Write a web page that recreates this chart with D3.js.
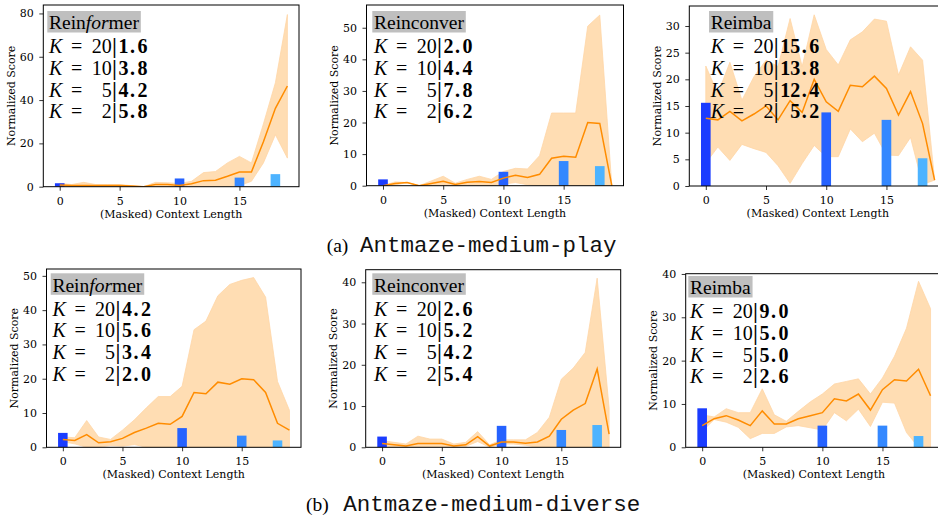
<!DOCTYPE html>
<html><head><meta charset="utf-8">
<script src="https://cdn.jsdelivr.net/npm/d3@7"></script>
<style>body{margin:0;background:#fff}svg{display:block}</style>
</head><body>
<script>
// ---------------- DATA ----------------
const contextLen = [0,1,2,3,4,5,6,7,8,9,10,11,12,13,14,15,16,17,18,19];
const barContext = [0,10,15,18];
const kLabels = [20,10,5,2];
const xTickVals = [0,5,10,15];

// (a) Antmaze-medium-play
const playReinformerMean = [0.8,0.5,0.6,0.5,0.5,0.5,0.3,0.0,1.0,1.0,0.6,1.4,2.8,3.0,4.8,6.8,6.8,20.8,36.2,46.5];
const playReinformerHi   = [1.5,1.0,2.0,1.0,1.0,1.0,0.5,0.0,2.0,1.8,1.5,2.5,6.5,7.0,11.0,14.0,11.0,29.0,48.0,79.5];
const playReinformerLo   = [0.2,0,0,0,0,0,0,0,0,0,0,0.3,0,0,0,0.5,2.5,11.0,24.0,13.2];
const playReinformerBars = [1.6,3.8,4.2,5.8];

const playReinconverMean = [0,0.7,1.0,0,0.7,1.4,0.4,1.1,1.3,1.0,2.4,3.3,2.6,3.6,8.7,9.3,9.0,20.0,19.7,0];
const playReinconverHi   = [0,1.2,1.0,0,1.5,3.0,0.8,2.0,3.0,2.0,4.5,5.5,5.3,9.5,23.0,23.0,23.0,50.5,54.0,0];
const playReinconverLo   = [0,0.2,1.0,0,0,0,0,0.3,0,0,0.5,1.0,0.3,0,0,0,0,0,0,0];
const playReinconverBars = [2.0,4.4,7.8,6.2];

const playReimbaMean = [12.7,12.4,14.0,12.2,13.5,15.0,12.4,16.0,13.8,20.0,15.8,14.0,18.9,18.6,20.6,18.3,13.3,17.7,11.7,1.1];
const playReimbaHi   = [22.5,17.3,23.2,16.1,20.5,23.6,22.4,31.4,22.4,32.1,25.6,22.7,27.4,28.9,31.3,30.9,20.8,26.1,23.6,1.1];
const playReimbaLo   = [4.3,7.3,4.8,7.8,7.0,6.3,3.8,0.5,4.2,7.6,5.5,5.5,10.7,8.3,9.9,5.8,5.7,9.1,0.3,1.1];
const playReimbaBars = [15.6,13.8,12.4,5.2];

// (b) Antmaze-medium-diverse
const divReinformerMean = [2.3,2.0,3.7,1.3,1.6,2.6,4.3,5.6,7.0,6.7,9.0,16.0,15.6,19.0,18.4,20.0,19.7,16.0,7.0,5.0];
const divReinformerHi   = [3.0,2.8,7.8,3.0,2.3,5.0,8.0,11.5,14.8,14.8,17.8,34.3,36.8,44.2,47.5,48.7,49.5,43.8,19.2,10.8];
const divReinformerLo   = [1.6,1.0,0,0,0.5,0.3,0.8,0,0,0,0,0,0,0,0,0,0,0,0,0];
const divReinformerBars = [4.2,5.6,3.4,2.0];

const divReinconverMean = [0.9,0.6,0.3,0.9,0.9,0.9,0.3,0.6,2.6,0.3,1.3,1.3,1.0,1.3,2.7,6.8,9.0,10.6,19.0,3.2];
const divReinconverHi   = [1.6,1.2,0.8,2.7,2.0,2.0,0.8,1.2,3.8,0.6,1.8,1.8,1.8,3.6,7.3,16.5,19.2,23.0,41.0,9.5];
const divReinconverLo   = [0.3,0.1,0,0,0,0,0,0.2,1.4,0,0.8,0.8,0.5,0,0,0,0,0,0,0];
const divReinconverBars = [2.6,5.2,4.2,5.4];

const divReimbaMean = [5.0,6.6,7.3,6.3,5.0,8.4,5.4,5.4,6.6,7.3,8.0,11.2,10.7,12.3,8.6,13.3,15.6,15.3,18.0,11.9];
const divReimbaHi   = [7.5,7.0,8.9,8.0,8.0,13.5,7.5,6.0,8.3,10.5,12.3,14.6,15.2,15.8,12.3,16.0,21.0,27.5,38.3,32.0];
const divReimbaLo   = [3.7,6.4,5.8,4.6,2.0,3.2,3.2,4.7,5.0,4.5,4.0,8.0,6.1,8.8,4.8,10.4,10.2,3.4,0.0,0.0];
const divReimbaBars = [9.0,5.0,5.0,2.6];

// ---------------- STYLE / LAYOUT ----------------
const barColors = ["#1a3cff","#2562ff","#3488ff","#4db3ff"];
const lineColor = "#ff8c00";
const bandColor = "#ffddb3";
const axisFont = "DejaVu Serif";
const boxFont = "Liberation Serif";

const panels = [
  {title:["Rein","for","mer"], mean:playReinformerMean, hi:playReinformerHi, lo:playReinformerLo, bars:playReinformerBars,
   l:43.3, r:299, t:5, b:186.7, ymax:83.9, yTicks:[0,20,40,60,80], bx:47.3, bt:11},
  {title:["Reinconver"], mean:playReinconverMean, hi:playReinconverHi, lo:playReinconverLo, bars:playReinconverBars,
   l:366.5, r:623.5, t:5, b:185.7, ymax:57.2, yTicks:[0,10,20,30,40,50], bx:372.3, bt:11},
  {title:["Reimba"], mean:playReimbaMean, hi:playReimbaHi, lo:playReimbaLo, bars:playReimbaBars,
   l:689.3, r:946.3, t:6, b:186, ymax:33.75, yTicks:[0,5,10,15,20,25,30], bx:709, bt:11},
  {title:["Rein","for","mer"], mean:divReinformerMean, hi:divReinformerHi, lo:divReinformerLo, bars:divReinformerBars,
   l:46.5, r:301, t:269, b:447.3, ymax:52, yTicks:[0,10,20,30,40,50], bx:50.7, bt:273.3},
  {title:["Reinconver"], mean:divReinconverMean, hi:divReinconverHi, lo:divReinconverLo, bars:divReinconverBars,
   l:365.7, r:620.7, t:269.7, b:447.3, ymax:43.05, yTicks:[0,10,20,30,40], bx:372.3, bt:273.3},
  {title:["Reimba"], mean:divReimbaMean, hi:divReimbaHi, lo:divReimbaLo, bars:divReimbaBars,
   l:685.7, r:942.2, t:273.7, b:447.3, ymax:40.06, yTicks:[0,10,20,30,40], bx:688.3, bt:276}
];

const svg = d3.select("body").append("svg").attr("width",938).attr("height",517)
  .style("font-family", axisFont);

panels.forEach((p, pi) => {
  const x = d3.scaleLinear().domain([-1.37,19.97]).range([p.l, p.r]);
  const y = d3.scaleLinear().domain([0,p.ymax]).range([p.b, p.t]);
  const g = svg.append("g");
  const cid = "clip"+pi;
  g.append("clipPath").attr("id",cid).append("rect")
    .attr("x",p.l).attr("y",p.t).attr("width",p.r-p.l).attr("height",p.b-p.t);
  const plot = g.append("g").attr("clip-path",`url(#${cid})`);

  const area = d3.area().x((d,i)=>x(contextLen[i])).y0((d,i)=>y(p.lo[i])).y1((d,i)=>y(p.hi[i]));
  plot.append("path").datum(p.mean).attr("d",area).attr("fill",bandColor).attr("stroke","#ffd6a6").attr("stroke-width",0.8);

  plot.selectAll("rect.bar").data(p.bars).join("rect").attr("class","bar")
    .attr("x",(d,i)=>x(barContext[i]-0.4)).attr("width",x(0.8)-x(0))
    .attr("y",d=>y(d)).attr("height",d=>y(0)-y(d)).attr("fill",(d,i)=>barColors[i]);

  const line = d3.line().x((d,i)=>x(contextLen[i])).y(d=>y(d));
  plot.append("path").datum(p.mean).attr("d",line).attr("fill","none").attr("stroke",lineColor).attr("stroke-width",1.5);

  // axes
  const ya = g.append("g").attr("transform",`translate(${p.l},0)`)
    .call(d3.axisLeft(y).tickValues(p.yTicks).tickSize(4).tickSizeOuter(0).tickPadding(5.5));
  const xa = g.append("g").attr("transform",`translate(0,${p.b})`)
    .call(d3.axisBottom(x).tickValues(xTickVals).tickSize(4).tickSizeOuter(0).tickPadding(6.2));
  [ya,xa].forEach(a=>{
    a.select(".domain").remove();
    a.selectAll("text").attr("font-family",axisFont).attr("font-size",11).attr("fill","#000");
    a.selectAll("line").attr("stroke","#000").attr("stroke-width",0.8);
  });
  g.append("rect").attr("x",p.l).attr("y",p.t).attr("width",p.r-p.l).attr("height",p.b-p.t)
    .attr("fill","none").attr("stroke","#000").attr("stroke-width",1);

  g.append("text").attr("x", x(9.3)).attr("y",p.b+30.8)
    .attr("text-anchor","middle").attr("font-size",11).text("(Masked) Context Length");
  g.append("text").attr("transform",`translate(${p.l-32},${(p.t+p.b)/2}) rotate(-90)`)
    .attr("text-anchor","middle").attr("dominant-baseline","central").attr("font-size",11)
    .text("Normalized Score");

  // text block
  const tb = g.append("g").attr("font-family",boxFont);
  const bgRect = tb.append("rect").attr("fill","#bfbfbf");
  const title = tb.append("text").attr("x",p.bx+1.7).attr("y",p.bt+18.3).attr("font-size",19.5);
  p.title.forEach((s,i)=>title.append("tspan").text(s).attr("font-style", i===1?"italic":"normal"));
  const tw = title.node().getComputedTextLength();
  bgRect.attr("x",p.bx).attr("y",p.bt).attr("width",tw+3.6).attr("height",21.5);

  const maxIntLen = d3.max(p.bars, v => String(Math.floor(v)).length);
  p.bars.forEach((v,i)=>{
    const x0 = p.bx+1.7, yb = p.bt+42.3+i*21.7;
    tb.append("text").attr("x",x0).attr("y",yb).attr("font-size",20).attr("font-style","italic").text("K");
    tb.append("text").attr("x",x0+22).attr("y",yb).attr("font-size",20).text("=");
    tb.append("text").attr("x",x0+62.7).attr("y",yb).attr("font-size",20).attr("text-anchor","end").text(kLabels[i]);
    tb.append("text").attr("x",x0+63.3).attr("y",yb).attr("font-size",20).attr("font-weight","bold").text("|");
    const s = v.toFixed(1).split(".");
    const pad = (maxIntLen - s[0].length) * 10;
    const vt = tb.append("text").attr("x",x0+69.5+pad).attr("y",yb).attr("font-size",20).attr("font-weight","bold");
    vt.append("tspan").text(s[0]);
    vt.append("tspan").attr("dx",1.5).text(".");
    vt.append("tspan").attr("dx",2.5).text(s[1]);
  });
});

// captions
const captions = [
  {lab:"(a)", name:"Antmaze-medium-play", x1:326.7, x2:360, y:251.5},
  {lab:"(b)", name:"Antmaze-medium-diverse", x1:306, x2:343.3, y:510.5}
];
captions.forEach(c=>{
  svg.append("text").attr("x",c.x1).attr("y",c.y).attr("font-family",boxFont).attr("font-size",19.5).text(c.lab);
  svg.append("text").attr("x",c.x2).attr("y",c.y).attr("font-family","Liberation Mono").attr("font-size",22.5)
    .attr("fill","#111").text(c.name);
});
</script>
</body></html>
